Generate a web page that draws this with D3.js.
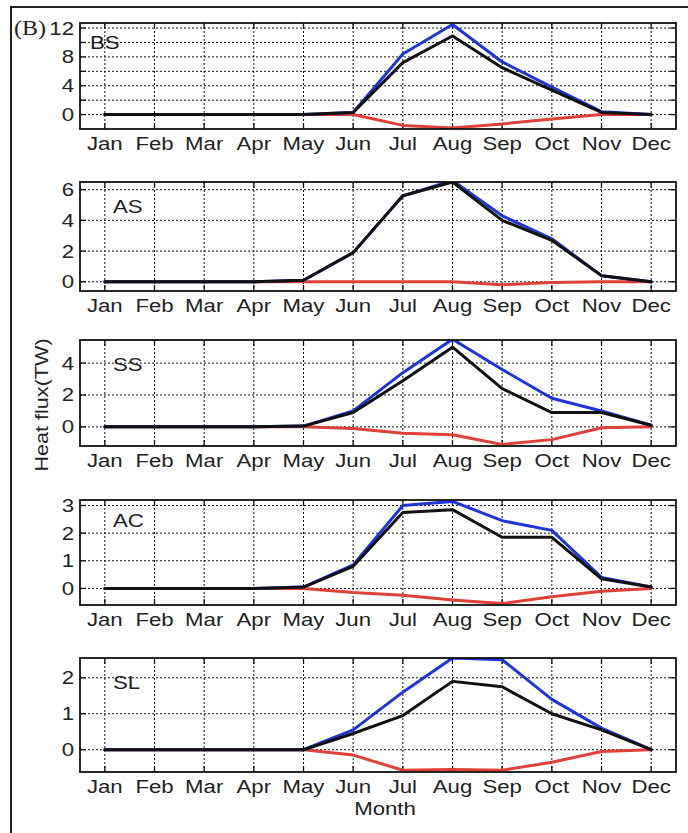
<!DOCTYPE html>
<html><head><meta charset="utf-8">
<script src="https://cdn.jsdelivr.net/npm/d3@7/dist/d3.min.js"></script>
<style>body{margin:0;background:#fff}svg{display:block}</style>
</head><body>
<script>
const months = ["Jan","Feb","Mar","Apr","May","Jun","Jul","Aug","Sep","Oct","Nov","Dec"];
const panelNames = ["BS","AS","SS","AC","SL"];

const blueBS  = [0,0,0,0,0,0.3,8.4,12.5,7.3,3.8,0.4,0];
const blackBS = [0,0,0,0,0,0.3,7.2,10.9,6.5,3.4,0.3,0];
const redBS   = [0,0,0,0,0,0,-1.5,-1.85,-1.3,-0.6,0,0];

const blueAS  = [0,0,0,0,0.1,1.9,5.6,6.6,4.3,2.8,0.4,0];
const blackAS = [0,0,0,0,0.1,1.9,5.6,6.5,4.0,2.7,0.4,0];
const redAS   = [0,0,0,0,0,0,0,0,-0.2,-0.05,0,0];

const blueSS  = [0,0,0,0,0.05,1.0,3.4,5.5,3.6,1.8,1.0,0.1];
const blackSS = [0,0,0,0,0.05,0.9,2.9,5.0,2.4,0.9,0.9,0.1];
const redSS   = [0,0,0,0,0,-0.1,-0.4,-0.5,-1.1,-0.8,-0.05,0];

const blueAC  = [0,0,0,0,0.05,0.85,3.0,3.15,2.45,2.1,0.4,0.05];
const blackAC = [0,0,0,0,0.05,0.8,2.75,2.85,1.85,1.85,0.35,0.05];
const redAC   = [0,0,0,0,0,-0.15,-0.25,-0.42,-0.55,-0.3,-0.1,0];

const blueSL  = [0,0,0,0,0,0.55,1.6,2.55,2.5,1.4,0.6,0];
const blackSL = [0,0,0,0,0,0.45,0.95,1.9,1.75,1.0,0.55,0];
const redSL   = [0,0,0,0,0,-0.15,-0.57,-0.55,-0.57,-0.35,-0.05,0];

const yDomains = [[-2,12.7],[-0.6,6.5],[-1.2,5.45],[-0.6,3.2],[-0.62,2.55]];
const gridTicks = [[0,2,4,6,8,10,12],[0,2,4,6],[0,2,4],[0,1,2,3],[0,1,2]];
const labelTicks = [[0,4,8,12],[0,2,4,6],[0,2,4],[0,1,2,3],[0,1,2]];

const blueSeries = [blueBS,blueAS,blueSS,blueAC,blueSL];
const blackSeries = [blackBS,blackAS,blackSS,blackAC,blackSL];
const redSeries = [redBS,redAS,redSS,redAC,redSL];

const W = 688, H = 833;
const svg = d3.select("body").append("svg").attr("width",W).attr("height",H);
svg.append("rect").attr("width",W).attr("height",H).attr("fill","#fff");

// outer frame
svg.append("path").attr("d","M11,833 L11,7 L688,7").attr("fill","none").attr("stroke","#222").attr("stroke-width",2);

const boxes = [[23,129],[182,291],[340,446],[500,605],[658,772]];
const left = 80, right = 676;
const x = d3.scaleLinear().domain([0.5,12.5]).range([left,right]);
const SX = 1.2;
const font = "'Liberation Sans', Arial, sans-serif";

function stretchedText(g, tx, ty, txt, anchor, size){
  return g.append("text").attr("transform",`translate(${tx},${ty}) scale(${SX},1)`)
    .attr("text-anchor",anchor).attr("font-family",font).attr("font-size",size)
    .attr("fill","#222").text(txt);
}

panelNames.forEach((name,i)=>{
  const [top,bot] = boxes[i];
  const y = d3.scaleLinear().domain(yDomains[i]).range([bot,top]);
  const g = svg.append("g");
  const clipId = "clip"+i;
  g.append("clipPath").attr("id",clipId).append("rect")
    .attr("x",left).attr("y",top).attr("width",right-left).attr("height",bot-top);

  // grid
  const grid = g.append("g").attr("stroke","#111").attr("stroke-width",1).attr("stroke-dasharray","2,2");
  months.forEach((m,k)=>{
    grid.append("line").attr("x1",x(k+1)).attr("x2",x(k+1)).attr("y1",top).attr("y2",bot);
  });
  gridTicks[i].forEach(v=>{
    grid.append("line").attr("x1",left).attr("x2",right).attr("y1",y(v)).attr("y2",y(v));
  });
  // tick marks
  const tk = g.append("g").attr("stroke","#111").attr("stroke-width",1.3);
  months.forEach((m,k)=>{
    tk.append("line").attr("x1",x(k+1)).attr("x2",x(k+1)).attr("y1",bot).attr("y2",bot-6);
    tk.append("line").attr("x1",x(k+1)).attr("x2",x(k+1)).attr("y1",top).attr("y2",top+6);
  });
  gridTicks[i].forEach(v=>{
    tk.append("line").attr("x1",left).attr("x2",left+6).attr("y1",y(v)).attr("y2",y(v));
    tk.append("line").attr("x1",right).attr("x2",right-6).attr("y1",y(v)).attr("y2",y(v));
  });

  // lines
  const line = d3.line().x((d,k)=>x(k+1)).y(d=>y(d));
  const lg = g.append("g").attr("clip-path",`url(#${clipId})`);
  [[redSeries[i],"#e0403a"],[blueSeries[i],"#2035d8"],[blackSeries[i],"#111"]].forEach(([s,c])=>{
    lg.append("path").datum(s).attr("d",line).attr("fill","none").attr("stroke",c)
      .attr("stroke-width",3).attr("stroke-linejoin","round").attr("stroke-linecap","round");
  });

  // box
  g.append("rect").attr("x",left).attr("y",top).attr("width",right-left).attr("height",bot-top)
    .attr("fill","none").attr("stroke","#111").attr("stroke-width",1.8);

  // y labels
  labelTicks[i].forEach(v=>{
    stretchedText(g, 74, y(v)+6.5, String(v), "end", 18.5);
  });
  // x labels
  months.forEach((m,k)=>{
    stretchedText(g, x(k+1), bot+21, m, "middle", 18.5);
  });
  // panel name
  const nx = i===0 ? 90 : 113;
  stretchedText(g, nx, top + (i===0?26:(i===3?27:31)), name, "start", 18.5);
});

// (B)
svg.append("text").attr("transform","translate(14,35) scale(1.2,1)").attr("font-family","'Liberation Serif', 'Times New Roman', serif")
  .attr("font-size",20).attr("fill","#222").text("(B)");

// y axis title
svg.append("text").attr("transform","translate(48,405) rotate(-90) scale(1.2,1)")
  .attr("text-anchor","middle").attr("font-family",font).attr("font-size",18).attr("fill","#222").text("Heat flux(TW)");

// x axis title
stretchedText(svg, 385, 815, "Month", "middle", 18.5);
</script>
</body></html>
